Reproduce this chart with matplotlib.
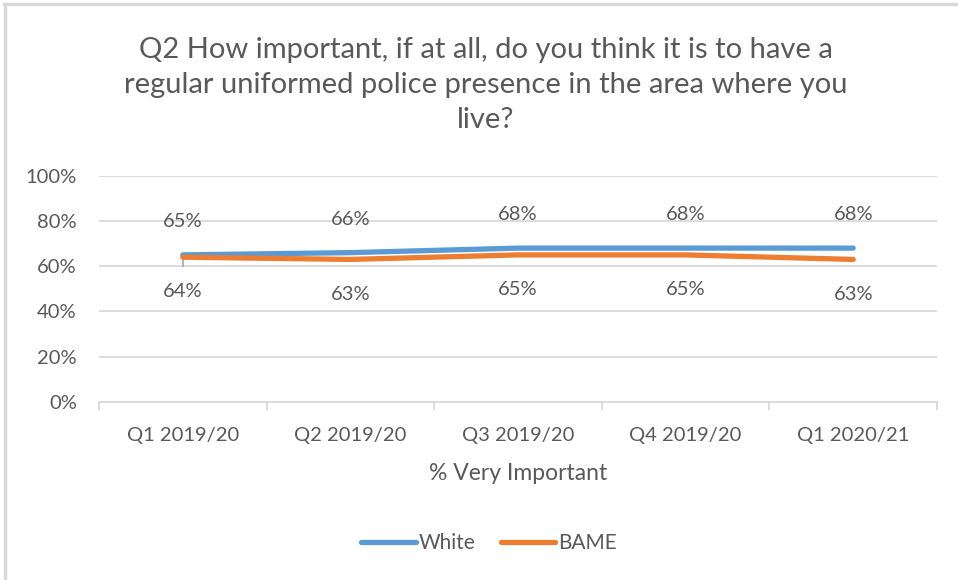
import matplotlib.pyplot as plt
from matplotlib.lines import Line2D
from matplotlib.ticker import FixedLocator, PercentFormatter

plt.rcParams['font.family'] = ['Lato', 'DejaVu Sans']

# data
quarters = ["Q1 2019/20", "Q2 2019/20", "Q3 2019/20", "Q4 2019/20", "Q1 2020/21"]
white = [0.65, 0.66, 0.68, 0.68, 0.68]
bame = [0.64, 0.63, 0.65, 0.65, 0.63]
white_labels = ["65%", "66%", "68%", "68%", "68%"]
bame_labels = ["64%", "63%", "65%", "65%", "63%"]

txt = "#595959"
grid = "#D9D9D9"
blue = "#5B9BD5"
orange = "#ED7D31"

fig = plt.figure(figsize=(9.58, 5.80), dpi=100)
ax = fig.add_axes([99/958, 1 - 402/580, 838/958, 226.3/580])

x = list(range(len(quarters)))
ax.plot(x, white, color=blue, lw=3.8, solid_capstyle="round", label="White", zorder=3)
ax.plot(x, bame, color=orange, lw=3.8, solid_capstyle="round", label="BAME", zorder=4)
# small grey stub under the first point, as in the original
ax.vlines(0, 0.595, bame[0], color="#A6A6A6", lw=1.2, zorder=2)

# data labels: white above, BAME below
for i in x:
    ax.annotate(white_labels[i], (i, white[i]), xytext=(0, 24), textcoords="offset points",
                ha="center", va="center", fontsize=14.5, color=txt)
    ax.annotate(bame_labels[i], (i, bame[i]), xytext=(0, -25), textcoords="offset points",
                ha="center", va="center", fontsize=14.5, color=txt)

ax.set_xlim(-0.5, len(quarters) - 0.5)
ax.set_ylim(0, 1.0)
ax.set_yticks([0, 0.2, 0.4, 0.6, 0.8, 1.0])
ax.yaxis.set_major_formatter(PercentFormatter(1.0, decimals=0))
ax.grid(axis="y", color=grid, lw=1.3)
ax.set_axisbelow(True)

ax.set_xticks(x)
ax.set_xticklabels(quarters)
ax.xaxis.set_minor_locator(FixedLocator([i - 0.5 for i in range(len(quarters) + 1)]))
ax.tick_params(axis="x", which="major", length=0, pad=18, labelsize=14.5, labelcolor=txt)
ax.tick_params(axis="x", which="minor", length=6, width=1.3, color=grid)
ax.tick_params(axis="y", length=0, pad=16, labelsize=14.5, labelcolor=txt)

for s in ["top", "right", "left"]:
    ax.spines[s].set_visible(False)
ax.spines["bottom"].set_color(grid)
ax.spines["bottom"].set_linewidth(1.3)

ax.set_xlabel("% Very Important", fontsize=16.5, color=txt, labelpad=14)

fig.text(486/958, 1 - 85/580,
         "Q2 How important, if at all, do you think it is to have a\n"
         "regular uniformed police presence in the area where you\n"
         "live?", ha="center", va="center", fontsize=21, color=txt, linespacing=1.45)

fig.legend(loc="center", bbox_to_anchor=(489/958, 1 - 543/580), ncol=2, frameon=False,
           fontsize=15, labelcolor=txt, handlelength=2.6, handletextpad=0.15,
           columnspacing=1.2)

# outer chart frame
fig.add_artist(Line2D([4/958, 1], [1 - 4/580, 1 - 4/580], color=grid, lw=2.5))
fig.add_artist(Line2D([5/958, 5/958], [0, 1 - 4/580], color=grid, lw=2.5))

fig.savefig("out.png", dpi=100)
